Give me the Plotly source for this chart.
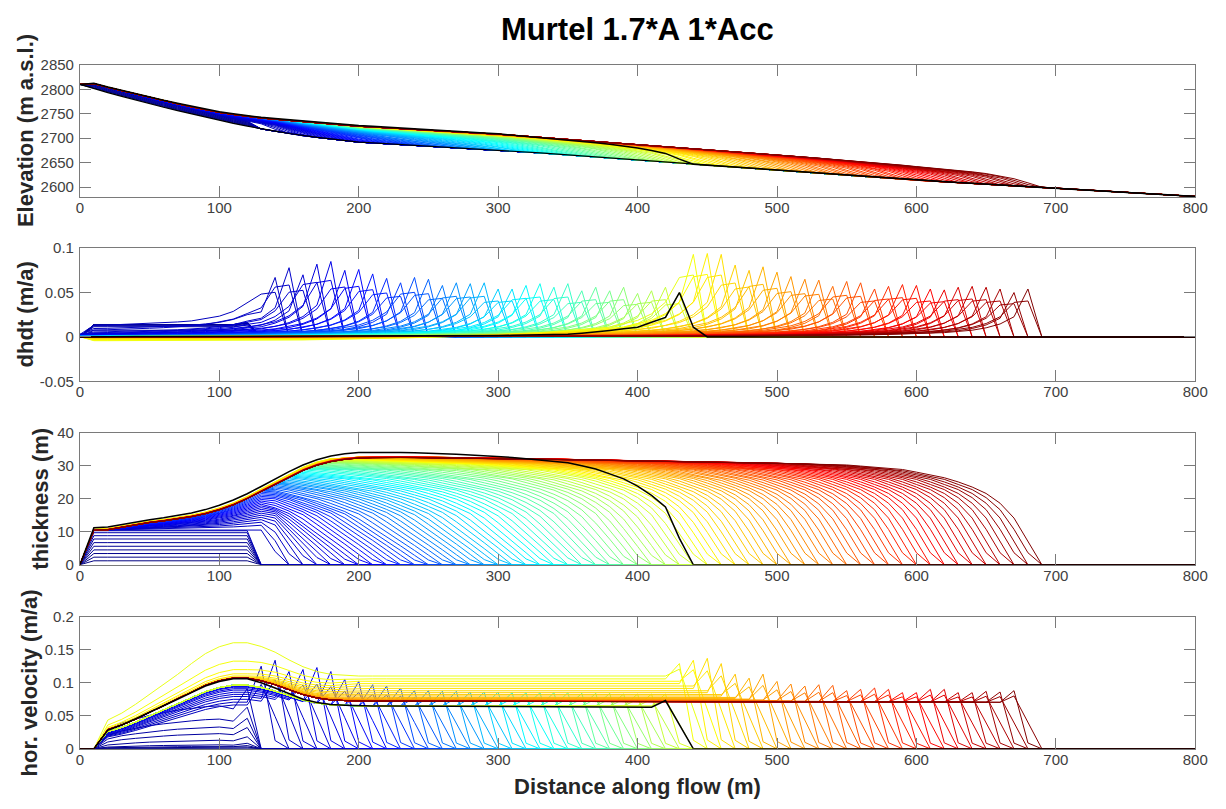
import numpy as np
import plotly.graph_objects as go

# ---------------- data ----------------
X = np.arange(0, 801, 10).astype(float)          # model grid (m)

BED_X = [0, 10, 50, 100, 130, 160, 200, 250, 300, 400, 440, 500, 600, 690, 800]
BED_Z = [2810, 2801, 2770, 2736, 2719, 2705, 2692, 2684, 2676, 2656, 2647, 2635, 2614, 2600, 2581]

# final (upper) thickness envelope
ENV_X = [0, 10, 20, 30, 40, 50, 60, 70, 80, 90, 100, 110, 120, 130, 140, 150, 160, 170, 180, 190,
         200, 220, 250, 300, 350, 400, 450, 500, 550, 600, 650, 700, 800]
ENV_H = [0, 10.5, 10.7, 11.5, 12.3, 12.9, 13.4, 14.0, 14.7, 15.6, 16.8, 18.3, 20.2, 22.4, 24.6, 26.8,
         28.8, 30.4, 31.5, 32.2, 32.6, 32.8, 32.7, 32.4, 32.1, 31.8, 31.4, 31.0, 30.5, 30.0, 29.4, 28.8, 28.0]
PLATEAU_LEVEL = 10.5

# snout thickness vs distance behind the front
SNOUT_D = [0, 10, 20, 30, 40, 60, 90, 140, 200, 300, 1000]
SNOUT_H = [0, 8, 15.5, 19.8, 22.6, 26, 28.8, 30.7, 31.8, 33.5, 45]
STRETCH_F = [145, 160, 180, 200, 250, 300, 350, 400, 440, 500, 600, 690]
STRETCH_S = [1.0, 1.3, 2.0, 2.5, 2.8, 2.5, 2.0, 1.5, 1.25, 1.15, 1.1, 1.1]

# initial build-up profiles
PLATEAU_H = [1.2, 2.3, 3.4, 4.5, 5.6, 6.7, 7.8, 8.8, 9.7, 10.3]
PLATEAU_DHDT = [0.014, 0.0138, 0.0138, 0.0138, 0.0138, 0.0138, 0.0135, 0.0125, 0.0115, 0.0075]
PLATEAU_V100 = [0.0003, 0.001, 0.002, 0.0035, 0.006, 0.013, 0.023, 0.033, 0.045, 0.065]
PSH_X = [0, 10, 20, 30, 50, 70, 90, 100, 110, 120, 130, 800]
PSH_V = [0, 0, 0.45, 0.6, 0.78, 0.9, 0.98, 1.0, 0.93, 1.4, 0, 0]

# front positions of the successive profiles (m) and their colour position
FRONTS = list(range(145, 691, 5))
BLACK_FRONT = 440
COLOR_F = [145, 200, 250, 330, 440, 460, 620, 690]
COLOR_T = [0.06, 0.11, 0.20, 0.37, 0.59, 0.64, 0.875, 1.0]
PLATEAU_T = [0.0, 0.005, 0.01, 0.015, 0.02, 0.025, 0.03, 0.037, 0.044, 0.052]

# dhdt peaks per grid cell 140..680
DHDT_PEAK = [0.067, 0.078, 0.070, 0.082, 0.085, 0.075, 0.076, 0.071, 0.066, 0.061,
             0.067, 0.065, 0.058, 0.061, 0.060, 0.061, 0.054, 0.054, 0.058, 0.060,
             0.056, 0.060, 0.052, 0.056, 0.052, 0.056, 0.049, 0.052, 0.056, 0.050,
             0.093, 0.094, 0.093, 0.081, 0.075, 0.079, 0.073, 0.068, 0.065, 0.064,
             0.057, 0.0625, 0.061, 0.054, 0.057, 0.059, 0.058, 0.054, 0.053, 0.056,
             0.057, 0.056, 0.054, 0.050, 0.054]
TAIL_D = [-10, 0, 10, 20, 30, 40, 60, 80, 120, 180, 260, 400, 900]
TAIL_A = [0, 1, 0.42, 0.27, 0.19, 0.14, 0.09, 0.065, 0.04, 0.022, 0.01, 0.003, 0]
TAIL_B = [0, 0.75, 0.72, 0.42, 0.28, 0.2, 0.12, 0.085, 0.05, 0.027, 0.012, 0.003, 0]
GROWTH_DHDT = [0.010, 0.007, 0.0045, 0.003, 0.002, 0.0015, 0.001, 0.0007, 0.0005, 0.0003]
THIN_DHDT = [0.0045, 0.004, 0.0035, 0.003, 0.0026, 0.0022, 0.0019, 0.0016, 0.0013, 0.0011,
             0.0009, 0.0007, 0.0005, 0.0004, 0.0003, 0.0002]
THIN_X = [0, 10, 150, 250, 350, 800]
THIN_W = [0, 1, 1, 0.6, 0, 0]
FAC_POST = [1.025, 1.022, 1.019, 1.016, 1.013, 1.010, 1.008, 1.006, 1.004, 1.002]

# horizontal velocity
VB_X = [0, 10, 20, 30, 40, 50, 60, 70, 80, 90, 100, 110, 120, 130, 140, 150, 160, 170, 180, 200,
        300, 400, 500, 600, 700, 800]
VB_V = [0, 0, 0.029, 0.036, 0.045, 0.055, 0.065, 0.075, 0.086, 0.096, 0.103, 0.107, 0.107, 0.103,
        0.097, 0.089, 0.082, 0.077, 0.074, 0.072, 0.072, 0.072, 0.072, 0.071, 0.070, 0.070]
VEL_PEAK = [0.125, 0.134, 0.117, 0.120, 0.123, 0.117, 0.105, 0.102, 0.097, 0.095,
            0.092, 0.088, 0.088, 0.087, 0.087, 0.086, 0.086, 0.086, 0.085, 0.085,
            0.085, 0.085, 0.085, 0.084, 0.084, 0.084, 0.083, 0.083, 0.083, 0.083,
            0.129, 0.134, 0.137, 0.129, 0.113, 0.107, 0.113, 0.102, 0.098, 0.095,
            0.097, 0.096, 0.088, 0.090, 0.092, 0.090, 0.085, 0.085, 0.090, 0.090,
            0.085, 0.085, 0.087, 0.086, 0.088]          # cells 130..670
M_PRE = [0.62, 0.66, 0.70, 0.74, 0.77, 0.80, 0.83, 0.85, 0.87, 0.88, 0.89]
M_PRE_LATE = 0.9
M_UP_POST = [1.5, 1.24, 1.12, 1.06, 1.03, 1.015, 1.008, 1.004]
M_DOWN_POST = [1.53, 1.47, 1.42, 1.37, 1.32, 1.27, 1.22, 1.18, 1.14, 1.11, 1.08, 1.06, 1.045,
               1.035, 1.025, 1.02, 1.015, 1.01, 1.006, 1.003]

# black reference run
BLACK_HX = [0, 10, 20, 30, 40, 50, 60, 70, 80, 90, 100, 110, 120, 130, 140, 150, 160, 170, 180, 190,
            200, 220, 250, 300, 350, 370, 390, 400, 410, 420, 430, 440, 800]
BLACK_H = [0, 11.2, 11.4, 12.2, 13.0, 13.6, 14.2, 14.9, 15.7, 16.7, 18.0, 19.6, 21.5, 23.7, 26.0, 28.2,
           30.2, 31.8, 32.9, 33.6, 34.0, 34.1, 33.8, 32.9, 30.9, 29.0, 26.0, 23.8, 21.0, 17.5, 8.0, 0, 0]
BLACK_DX = [0, 10, 250, 300, 350, 370, 400, 420, 430, 440, 450, 800]
BLACK_D = [0, 0.0003, 0.0008, 0.0015, 0.003, 0.0055, 0.011, 0.022, 0.05, 0.011, 0, 0]
BLACK_VX = [0, 10, 20, 30, 50, 70, 90, 100, 110, 120, 130, 140, 150, 160, 170, 180, 200, 300, 410,
            420, 440, 800]
BLACK_V = [0, 0, 0.028, 0.036, 0.055, 0.075, 0.095, 0.102, 0.106, 0.106, 0.1, 0.092, 0.083, 0.075,
           0.07, 0.067, 0.065, 0.064, 0.063, 0.073, 0, 0]

# ---------------- build profiles ----------------
def jet(t):
    r = min(max(min(4 * t - 1.5, -4 * t + 4.5), 0), 1)
    g = min(max(min(4 * t - 0.5, -4 * t + 3.5), 0), 1)
    b = min(max(min(4 * t + 0.5, -4 * t + 2.5), 0), 1)
    return f"rgb({round(r*255)},{round(g*255)},{round(b*255)})"

bed = np.interp(X, BED_X, BED_Z)
env = np.interp(X, ENV_X, ENV_H)
eplat = np.minimum(env, PLATEAU_LEVEL)
vb = np.interp(X, VB_X, VB_V)

thick, dhdt, vel, colors = [], [], [], []
for k, L in enumerate(PLATEAU_H):
    thick.append(np.interp(X, [0, 10, 120, 130, 800], [0, L, L, 0, 0]))
    D = PLATEAU_DHDT[k]
    dhdt.append(np.interp(X, [0, 10, 110, 120, 130, 800], [0, D, D, D * 1.15, 0, 0]))
    vel.append(PLATEAU_V100[k] * np.interp(X, PSH_X, PSH_V))
    colors.append(jet(PLATEAU_T[k]))

j_black = next(j for j, F in enumerate(FRONTS) if F > BLACK_FRONT)
for j, F in enumerate(FRONTS):
    is_b = (F % 10 == 5)
    p = F - 5 if is_b else F - 10
    post = j >= j_black
    kp = j - j_black
    colors.append(jet(float(np.interp(F, COLOR_F, COLOR_T))))
    # thickness
    G = min(1.0, j / 20.0) ** 0.7
    if post:
        fac = FAC_POST[kp] if kp < len(FAC_POST) else 1.0 - 0.01 * min(1, (kp - len(FAC_POST)) / 40)
    else:
        fac = 1.0
    E = (eplat + (env - eplat) * G) * fac
    s = np.interp(F, STRETCH_F, STRETCH_S)
    d = F - X
    h = np.where(d > 0, np.minimum(E, np.interp(d / s, SNOUT_D, SNOUT_H)), 0.0)
    thick.append(h)
    # dhdt
    P = DHDT_PEAK[(p - 140) // 10]
    dh = P * np.interp(p - X, TAIL_D, TAIL_B if is_b else TAIL_A, left=0, right=0)
    if j < len(GROWTH_DHDT):
        dh = dh + GROWTH_DHDT[j] * np.interp(X, [0, 10, 120, 130, 800], [0, 1, 1, 0, 0])
    if post and kp < len(THIN_DHDT):
        dh = dh - THIN_DHDT[kp] * np.interp(X, THIN_X, THIN_W) * (X < p - 20)
    dhdt.append(dh)
    # velocity
    if post:
        mu = M_UP_POST[kp] if kp < len(M_UP_POST) else 1.0
        md = M_DOWN_POST[kp] if kp < len(M_DOWN_POST) else 1.0
    else:
        mu = md = M_PRE[j] if j < len(M_PRE) else M_PRE_LATE
    m = np.interp(X, [120, 200], [mu, md])
    body = vb * m
    q = p - 10
    bq = float(np.interp(q, X, body))
    Pk = max(VEL_PEAK[(q - 130) // 10], bq * 1.05)
    if is_b:
        Pk = bq + 0.55 * (Pk - bq)
        vp = 0.5 * Pk
    else:
        vp = 0.1 * Pk
    v = np.where(X <= p - 20, body, 0.0)
    v[X == q] = Pk
    v[X == p] = vp
    vel.append(v)

black_h = np.interp(X, BLACK_HX, BLACK_H)
black_d = np.interp(X, BLACK_DX, BLACK_D)
black_v = np.interp(X, BLACK_VX, BLACK_V)

# ---------------- figure ----------------
fig = go.Figure()
panels = [
    ([bed + h for h in thick], bed + black_h, "y"),
    (dhdt, black_d, "y2"),
    (thick, black_h, "y3"),
    (vel, black_v, "y4"),
]
for ax_i, (lines, blk, yref) in enumerate(panels):
    xa = "x" if ax_i == 0 else f"x{ax_i+1}"
    for i, yv in enumerate(lines):
        fig.add_trace(go.Scatter(x=X, y=yv, mode="lines", xaxis=xa, yaxis=yref,
                                 line=dict(color=colors[i], width=1), hoverinfo="skip",
                                 showlegend=False))
    if ax_i == 0:
        fig.add_trace(go.Scatter(x=X, y=bed, mode="lines", xaxis=xa, yaxis=yref,
                                 line=dict(color="black", width=1.2), hoverinfo="skip",
                                 showlegend=False))
    fig.add_trace(go.Scatter(x=X, y=blk, mode="lines", xaxis=xa, yaxis=yref,
                             line=dict(color="black", width=1.5), hoverinfo="skip",
                             showlegend=False))

W, H = 1226, 809
xdom = [77 / W, 1208 / W]
ydoms = [(57, 192), (244.3, 380.3), (432.7, 567.7), (620.7, 755.7)]
yranges = [[2580, 2850], [-0.05, 0.1], [0, 40], [0, 0.2]]
yticks = [([2600, 2650, 2700, 2750, 2800, 2850], ["2600", "2650", "2700", "2750", "2800", "2850"]),
          ([-0.05, 0, 0.05, 0.1], ["-0.05", "0", "0.05", "0.1"]),
          ([0, 10, 20, 30, 40], ["0", "10", "20", "30", "40"]),
          ([0, 0.05, 0.1, 0.15, 0.2], ["0", "0.05", "0.1", "0.15", "0.2"])]
FONT = "Liberation Sans, Arial, Helvetica, sans-serif"
axcol = "#7a7a7a"
tickfont = dict(family=FONT, size=15, color="#404040")
lay = dict(width=W, height=H, margin=dict(l=0, r=0, t=0, b=0), autosize=False,
           paper_bgcolor="white", plot_bgcolor="white", showlegend=False)
for k in range(4):
    xn = "xaxis" if k == 0 else f"xaxis{k+1}"
    yn = "yaxis" if k == 0 else f"yaxis{k+1}"
    yid = "y" if k == 0 else f"y{k+1}"
    xid = "x" if k == 0 else f"x{k+1}"
    lay[xn] = dict(domain=xdom, range=[0, 800], anchor=yid, tickvals=list(range(0, 801, 100)),
                   ticktext=[str(v) for v in range(0, 801, 100)], ticks="inside", ticklen=11,
                   tickcolor=axcol, showline=True, linecolor=axcol, linewidth=1, mirror="ticks",
                   showgrid=False, zeroline=False, tickfont=tickfont, ticklabelstandoff=-3)
    y0, y1 = ydoms[k]
    lay[yn] = dict(domain=[1 - y1 / H, 1 - y0 / H], range=yranges[k], anchor=xid,
                   tickvals=yticks[k][0], ticktext=yticks[k][1], ticks="inside", ticklen=11,
                   tickcolor=axcol, showline=True, linecolor=axcol, linewidth=1, mirror="ticks",
                   showgrid=False, zeroline=False, tickfont=tickfont, ticklabelstandoff=2)
fig.update_layout(**lay)

ann = []
ann.append(dict(text="<b>Murtel 1.7*A 1*Acc</b>", x=642.5 / W, y=1 - 21 / H, xref="paper", yref="paper",
                showarrow=False, xanchor="center", yanchor="middle",
                font=dict(family=FONT, size=31, color="black")))
ylabels = [("Elevation (m a.s.l.)", 22.5), ("dhdt (m/a)", 22), ("thickness (m)", 37.5),
           ("hor. velocity (m/a)", 26)]
for k, (txt, xc) in enumerate(ylabels):
    y0, y1 = ydoms[k]
    ann.append(dict(text=f"<b>{txt}</b>", x=xc / W, y=1 - (y0 + y1) / 2 / H, xref="paper", yref="paper",
                    showarrow=False, xanchor="center", yanchor="middle", textangle=-90,
                    font=dict(family=FONT, size=22, color="#262626")))
ann.append(dict(text="<b>Distance along flow (m)</b>", x=642.5 / W, y=1 - 794 / H, xref="paper",
                yref="paper", showarrow=False, xanchor="center", yanchor="middle",
                font=dict(family=FONT, size=22, color="#262626")))
fig.update_layout(annotations=ann)

fig.write_html("out.html")
